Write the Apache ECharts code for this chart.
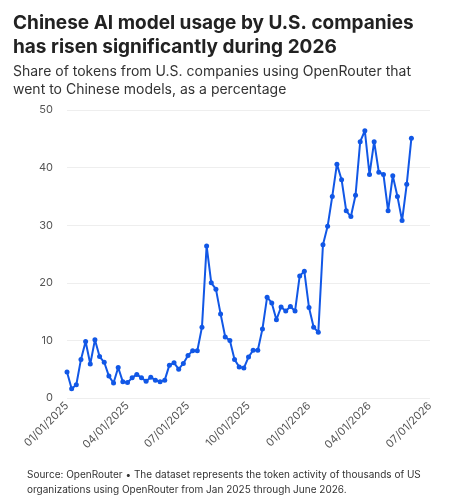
<!DOCTYPE html>
<html><head><meta charset="utf-8">
<script src="https://cdn.jsdelivr.net/npm/echarts@6/dist/echarts.min.js"></script>
<style>body{margin:0;background:#fff}#c{width:462px;height:500px}</style>
</head><body><div id="c"></div>
<script>
// weekly observations starting 2025-01-01
var startDate = '2025-01-01';
var endDate = '2026-07-01';
var shares = [4.5, 1.6, 2.3, 6.7, 9.8, 5.9, 10.1, 7.2, 6.2, 3.8, 2.6, 5.3, 2.8, 2.7, 3.5, 4.1, 3.5, 2.9, 3.6, 3.1,
  2.8, 3.1, 5.7, 6.1, 5.0, 6.0, 7.4, 8.2, 8.2, 12.3, 26.4, 20.0, 18.9, 14.6, 10.6, 10.0, 6.7,
  5.4, 5.2, 7.1, 8.3, 8.3, 12.0, 17.5, 16.5, 13.6, 15.8, 15.1, 15.9, 15.1, 21.2, 22.0, 15.7, 12.3, 11.4,
  26.6, 29.8, 35.0, 40.6, 37.9, 32.5, 31.5, 35.2, 44.5, 46.4, 38.8, 44.5, 39.2, 38.8, 32.5, 38.6, 35.0, 30.8, 37.1, 45.1];

var DAY = 864e5;
var t0 = Date.parse(startDate + 'T00:00:00Z');
var t1 = Date.parse(endDate + 'T00:00:00Z');
var points = shares.map(function (v, i) { return [t0 + i * 7 * DAY, v]; });
// label = nearest first-of-month to the tick
function fmt(t) {
  var d = new Date(t + 15 * DAY);
  var p = function (n) { return (n < 10 ? '0' : '') + n; };
  return p(d.getUTCMonth() + 1) + '/01/' + d.getUTCFullYear();
}

var chart = echarts.init(document.getElementById('c'));
chart.setOption({
  backgroundColor: '#fff',
  textStyle: { fontFamily: 'Inter' },
  title: [{
    text: 'Chinese AI model usage by U.S. companies\nhas risen significantly during 2026',
    left: 8, top: 6,
    textStyle: { fontSize: 19, fontWeight: 'bold', color: '#222', lineHeight: 24, fontFamily: 'Inter' }
  }, {
    text: 'Share of tokens from U.S. companies using OpenRouter that\nwent to Chinese models, as a percentage',
    left: 8, top: 58,
    textStyle: { fontSize: 14, fontWeight: 'normal', color: '#333', lineHeight: 18, fontFamily: 'Inter' }
  }, {
    text: 'Source: OpenRouter • The dataset represents the token activity of thousands of US\norganizations using OpenRouter from Jan 2025 through June 2026.',
    left: 22, top: 462,
    textStyle: { fontSize: 10, fontWeight: 'normal', color: '#333', lineHeight: 15, fontFamily: 'Inter' }
  }],
  grid: { left: 67, right: 32, top: 110, bottom: 102 },
  xAxis: {
    type: 'value', min: t0, max: t1, interval: (t1 - t0) / 6,
    axisLine: { show: false },
    axisTick: { show: false },
    splitLine: { show: false },
    axisLabel: {
      rotate: 45, color: '#555', fontSize: 11, margin: 6,
      showMinLabel: true, showMaxLabel: true,
      formatter: function (v) { return fmt(v); }
    }
  },
  yAxis: {
    type: 'value', min: 0, max: 50, interval: 10,
    axisLine: { show: false }, axisTick: { show: false },
    axisLabel: { color: '#555', fontSize: 11, margin: 14 },
    splitLine: { lineStyle: { color: '#eee' } }
  },
  series: [{
    type: 'line', data: points,
    symbol: 'circle', symbolSize: 5,
    itemStyle: { color: '#1157e6' },
    lineStyle: { color: '#1157e6', width: 2 }
  }]
});
</script></body></html>
